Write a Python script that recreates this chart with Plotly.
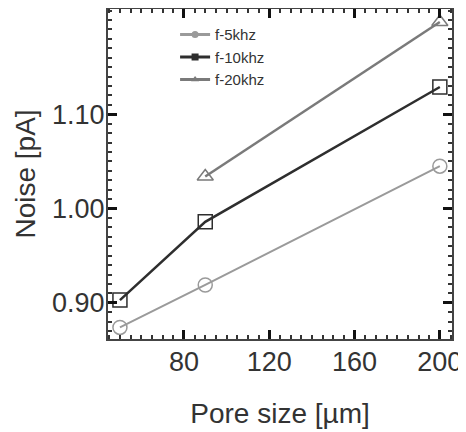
import plotly.graph_objects as go

pore_size = [50, 90, 200]
noise_5khz = [0.874, 0.919, 1.045]
noise_10khz = [0.903, 0.986, 1.129]
pore_size_20 = [90, 200]
noise_20khz = [1.034, 1.198]

series = [
    ("f-5khz", pore_size, noise_5khz, "#9a9a9a", "circle-open", 2),
    ("f-10khz", pore_size, noise_10khz, "#2e2e2e", "square-open", 2.5),
    ("f-20khz", pore_size_20, noise_20khz, "#7a7a7a", "triangle-up-open", 2.5),
]

FONT = "Liberation Sans, Arial, sans-serif"

fig = go.Figure()
for name, xs, ys, col, sym, lw in series:
    fig.add_trace(go.Scatter(
        x=xs, y=ys, mode="lines+markers", name=name, showlegend=False,
        line=dict(color=col, width=lw),
        marker=dict(symbol=sym, size=14, color=col, line=dict(width=1.5, color=col)),
    ))
    fig.add_trace(go.Scatter(
        x=[None], y=[None], mode="lines+markers", name=name,
        line=dict(color=col, width=3),
        marker=dict(symbol=sym.replace("-open", ""), size=7, color=col),
    ))

axis_common = dict(
    showline=True, linecolor="#444", linewidth=2, mirror="ticks",
    ticks="inside", ticklen=9, tickwidth=3, tickcolor="#111",
    showgrid=False, zeroline=False, automargin=False, ticklabeloverflow="allow",
    tickfont=dict(family=FONT, size=27, color="#333"),
    title_font=dict(family=FONT, size=28, color="#333"),
)

fig.update_xaxes(
    range=[44.4, 205.7], tickvals=[80, 120, 160, 200],
    minor=dict(ticks="inside", ticklen=4, tickwidth=2, tickcolor="#333", dtick=5, showgrid=False),
    title_text="Pore size [µm]", title_standoff=27, ticklabelstandoff=-2,
    **axis_common,
)
fig.update_yaxes(
    range=[0.8617, 1.2117], tickvals=[0.90, 1.00, 1.10], ticktext=["0.90", "1.00", "1.10"],
    minor=dict(ticks="inside", ticklen=4, tickwidth=2, tickcolor="#333", dtick=0.01, showgrid=False),
    title_text="Noise [pA]", title_standoff=8, ticklabelstandoff=-4,
    **axis_common,
)

# page body has an 8px default margin, so the figure is offset by 8px
fig.update_layout(
    width=458, height=424,
    margin=dict(l=100, r=14, t=1, b=93),
    plot_bgcolor="white", paper_bgcolor="white",
    legend=dict(
        x=0.195, y=0.972, xanchor="left", yanchor="top",
        font=dict(family=FONT, size=15, color="#333"),
        bgcolor="rgba(0,0,0,0)", itemwidth=30, tracegroupgap=0,
    ),
)

fig.write_html("out.html")
